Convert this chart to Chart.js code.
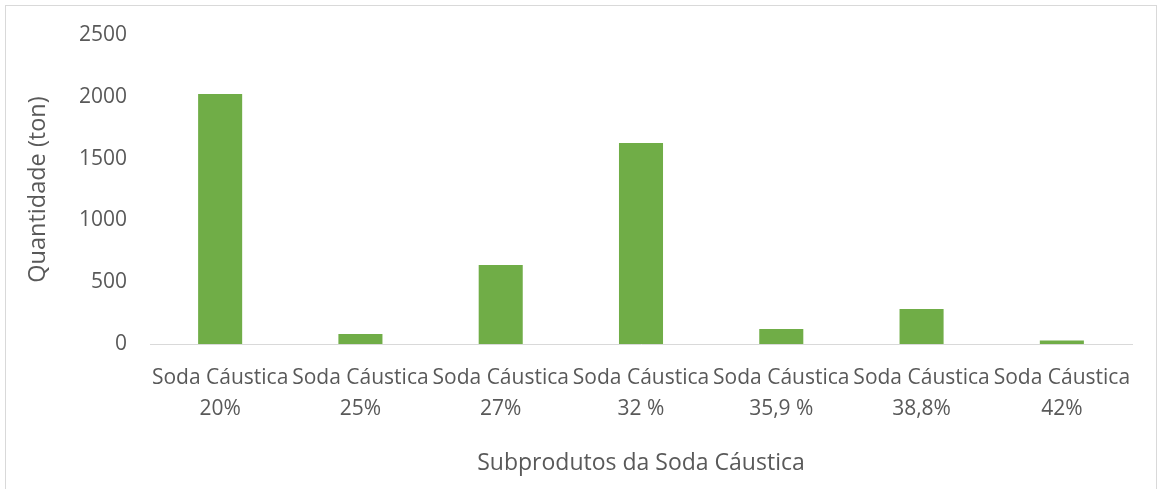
<!DOCTYPE html>
<html>
<head>
<meta charset="utf-8">
<script src="https://cdn.jsdelivr.net/npm/chart.js@4/dist/chart.umd.min.js"></script>
<style>
    body { margin: 0; background: #fff; }
    #frame {
        position: absolute; left: 5px; top: 5px;
        width: 1150px; height: 520px;
        border: 1px solid #d9d9d9;
    }
    #wrap { position: absolute; left: 0; top: 0; width: 1159px; height: 489px; }
</style>
</head>
<body>
<div id="frame"></div>
<div id="wrap"><canvas id="sodaChart"></canvas></div>
<script>
const categories = [
    ['Soda Cáustica', '20%'],
    ['Soda Cáustica', '25%'],
    ['Soda Cáustica', '27%'],
    ['Soda Cáustica', '32 %'],
    ['Soda Cáustica', '35,9 %'],
    ['Soda Cáustica', '38,8%'],
    ['Soda Cáustica', '42%']
];
const quantities = [2023, 81, 640, 1626, 121, 283, 29];
const yTicks = [0, 500, 1000, 1500, 2000, 2500];

const textColor = '#595959';
const fontFamily = '"Open Sans", sans-serif';

const sodaChart = document.getElementById('sodaChart');

new Chart(sodaChart, {
    type: 'bar',
    data: {
        labels: categories,
        datasets: [{
            label: 'Quantidade',
            data: quantities,
            backgroundColor: '#70ad47',
            barPercentage: 0.314,
            categoryPercentage: 1
        }]
    },
    options: {
        responsive: true,
        maintainAspectRatio: false,
        animation: false,
        layout: {
            padding: { top: 35, right: 27, left: 20, bottom: 0 }
        },
        plugins: {
            legend: { display: false },
            tooltip: { enabled: false }
        },
        scales: {
            x: {
                grid: { display: false },
                border: { display: true, color: '#d9d9d9', width: 1 },
                ticks: {
                    color: textColor,
                    font: { family: fontFamily, size: 21, lineHeight: 1.5 },
                    maxRotation: 0,
                    autoSkip: false,
                    padding: 10
                },
                title: {
                    display: true,
                    text: 'Subprodutos da Soda Cáustica',
                    color: textColor,
                    font: { family: fontFamily, size: 23 },
                    padding: { top: 4, bottom: 12 }
                },
                afterFit: function(scale) {
                    scale.height = 145;
                }
            },
            y: {
                min: 0,
                max: 2500,
                grid: { display: false },
                border: { display: false },
                afterBuildTicks: function(scale) {
                    scale.ticks = yTicks.map(v => ({ value: v }));
                },
                ticks: {
                    color: textColor,
                    font: { family: fontFamily, size: 21 },
                    padding: 15,
                    callback: value => String(value)
                },
                title: {
                    display: true,
                    text: 'Quantidade (ton)',
                    color: textColor,
                    font: { family: fontFamily, size: 23.5 }
                },
                afterFit: function(scale) {
                    scale.width = 130;
                }
            }
        }
    }
});
</script>
</body>
</html>
